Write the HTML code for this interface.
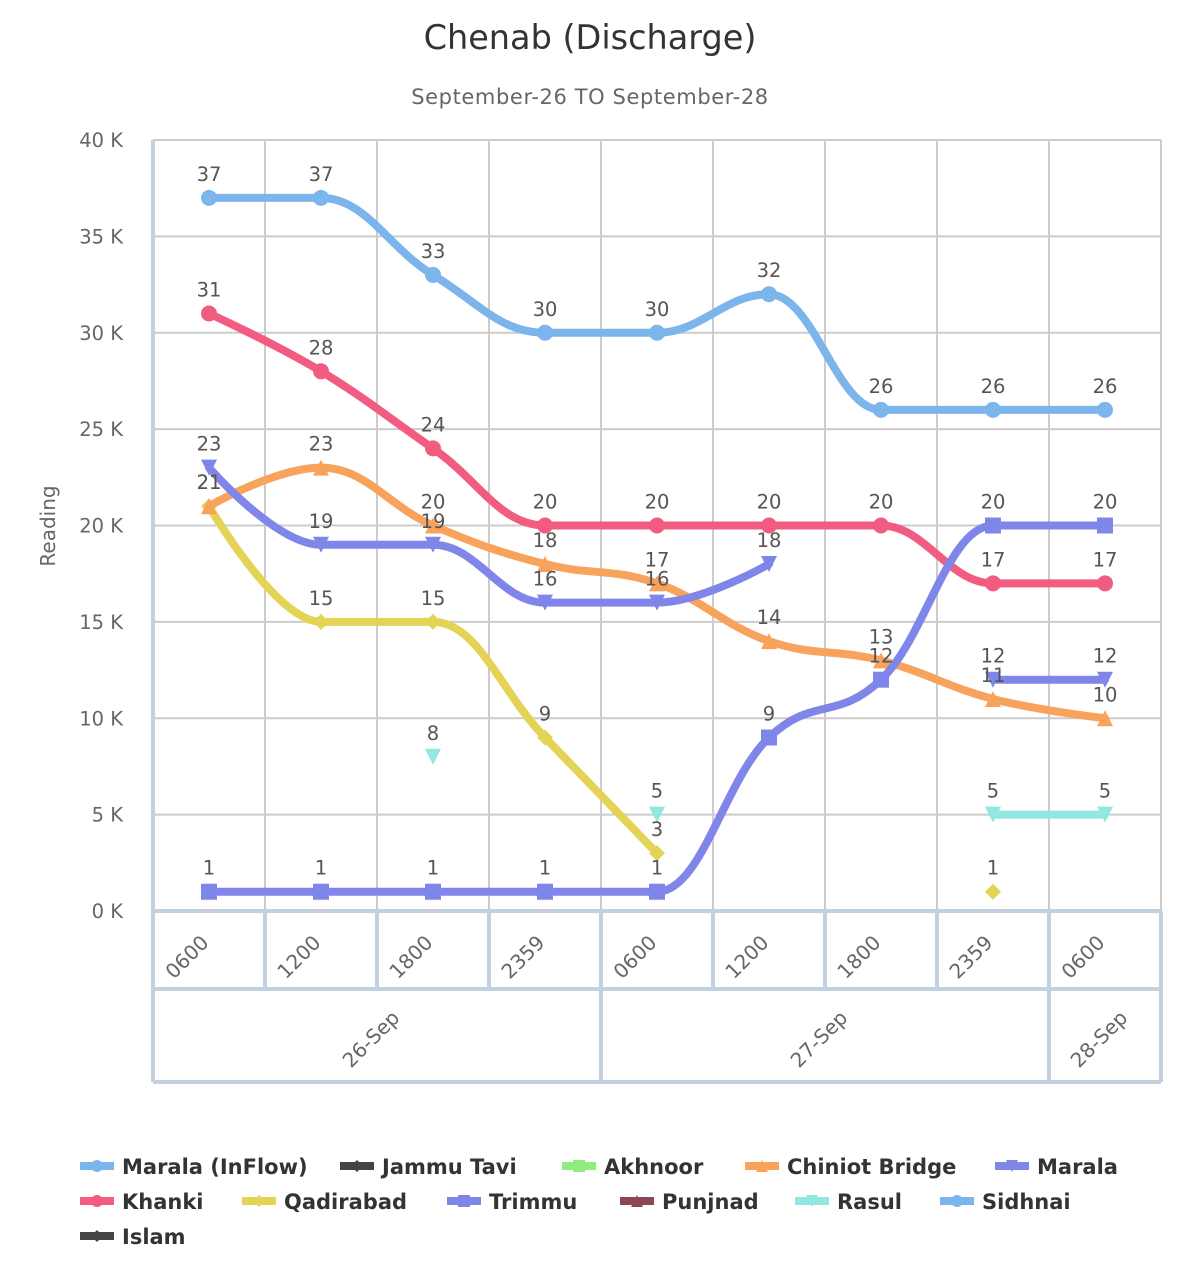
<!DOCTYPE html>
<html><head><meta charset="utf-8"><style>
html,body{margin:0;padding:0;background:#fff;}
svg{display:block;font-family:"DejaVu Sans","Liberation Sans",sans-serif;}
</style></head><body>
<svg id="s" width="1181" height="1280" viewBox="0 0 1181 1280" xmlns="http://www.w3.org/2000/svg">
<rect width="1181" height="1280" fill="#fff"/>
<text x="590" y="49" text-anchor="middle" font-size="33.5" fill="#333">Chenab (Discharge)</text>
<text x="590" y="104" text-anchor="middle" font-size="21" letter-spacing="0.6" fill="#666">September-26  TO September-28</text>
<text transform="translate(55,526) rotate(-90)" text-anchor="middle" font-size="20" fill="#666">Reading</text>
<g id="grid"></g>
<g id="series"></g>
<g id="labels" font-size="19.5" fill="#555" text-anchor="middle"></g>
<g id="legend" font-size="21" font-weight="bold" fill="#333"></g>
</svg>
<script>
const NS="http://www.w3.org/2000/svg";
function el(p,t,a,txt){const e=document.createElementNS(NS,t);for(const k in a)e.setAttribute(k,a[k]);if(txt!==undefined)e.textContent=txt;p.appendChild(e);return e;}
const g=document.getElementById('grid'),S=document.getElementById('series'),L=document.getElementById('labels'),LG=document.getElementById('legend');
const X0=153,CW=112,Y0=911,PK=19.275;
const xs=i=>X0+CW/2+i*CW, ys=v=>Y0-v*PK;
for(let k=0;k<=8;k++){const y=Y0-k*5*PK;el(g,'line',{x1:X0,x2:1161,y1:y,y2:y,stroke:'#ccc','stroke-width':2});
el(g,'text',{x:123,y:y+7,'text-anchor':'end','font-size':19.5,fill:'#666'},(k*5)+' K');}
for(let i=1;i<=9;i++){const x=X0+i*CW;el(g,'line',{x1:x,x2:x,y1:140,y2:Y0,stroke:'#ccc','stroke-width':2});}
el(g,'line',{x1:X0,x2:X0,y1:140,y2:Y0,stroke:'#c3d1df','stroke-width':4});
const bc='#c3d1df';
el(g,'line',{x1:X0,x2:1161,y1:Y0,y2:Y0,stroke:bc,'stroke-width':4});
el(g,'line',{x1:X0,x2:1161,y1:989,y2:989,stroke:bc,'stroke-width':4});
el(g,'line',{x1:X0,x2:1161,y1:1082,y2:1082,stroke:bc,'stroke-width':4});
for(let i=0;i<=9;i++){const x=X0+i*CW;el(g,'line',{x1:x,x2:x,y1:Y0,y2:989,stroke:bc,'stroke-width':4});}
[X0,601,1049,1161].forEach(x=>el(g,'line',{x1:x,x2:x,y1:989,y2:1082,stroke:bc,'stroke-width':4}));
const hrs=['0600','1200','1800','2359','0600','1200','1800','2359','0600'];
hrs.forEach((h,i)=>{const cx=xs(i);el(g,'text',{transform:`translate(${cx-21},${958}) rotate(-45)`,'text-anchor':'middle','font-size':20,fill:'#666','dominant-baseline':'middle'},h);});
[['26-Sep',372],['27-Sep',820],['28-Sep',1100]].forEach(d=>el(g,'text',{transform:`translate(${d[1]},${1040}) rotate(-45)`,'text-anchor':'middle','font-size':20,fill:'#666','dominant-baseline':'middle'},d[0]));

function spline(pts){let d='M'+pts[0][0]+' '+pts[0][1];const n=pts.length;const cont=[];
for(let i=0;i<n;i++){const [x,y]=pts[i];if(i===0||i===n-1){cont.push([x,y,x,y]);continue;}
const [px,py]=pts[i-1],[nx,ny]=pts[i+1];const sm=1.5,dn=2.5;
let lx=(sm*x+px)/dn,ly=(sm*y+py)/dn,rx=(sm*x+nx)/dn,ry=(sm*y+ny)/dn;
if(rx!==lx){const c=((ry-ly)*(rx-x))/(rx-lx)+y-ry;ly+=c;ry+=c;}
if(ly>py&&ly>y){ly=Math.max(py,y);ry=2*y-ly;}else if(ly<py&&ly<y){ly=Math.min(py,y);ry=2*y-ly;}
if(ry>ny&&ry>y){ry=Math.max(ny,y);ly=2*y-ry;}else if(ry<ny&&ry<y){ry=Math.min(ny,y);ly=2*y-ry;}
cont.push([lx,ly,rx,ry]);}
for(let i=1;i<n;i++){d+=` C${cont[i-1][2]} ${cont[i-1][3]} ${cont[i][0]} ${cont[i][1]} ${pts[i][0]} ${pts[i][1]}`;}
return d;}
function marker(p,type,x,y,c,r){r=r||8;
if(type==='circle')el(p,'circle',{cx:x,cy:y,r:r,fill:c});
else if(type==='square')el(p,'rect',{x:x-r,y:y-r,width:2*r,height:2*r,fill:c});
else if(type==='diamond')el(p,'path',{d:`M${x} ${y-r}L${x+r} ${y}L${x} ${y+r}L${x-r} ${y}Z`,fill:c});
else if(type==='triangle')el(p,'path',{d:`M${x} ${y-r}L${x+r} ${y+r}L${x-r} ${y+r}Z`,fill:c});
else if(type==='tdown')el(p,'path',{d:`M${x-r} ${y-r}L${x+r} ${y-r}L${x} ${y+r}Z`,fill:c});}
const N=null;
const series=[
['#7cb5ec','circle',[37,37,33,30,30,32,26,26,26]],
['#f15c80','circle',[31,28,24,20,20,20,20,17,17]],
['#e4d354','diamond',[21,15,15,9,3,N,N,1,N]],
['#f7a35c','triangle',[21,23,20,18,17,14,13,11,10]],
['#8085e9','square',[1,1,1,1,1,9,12,20,20]],
['#8085e9','tdown',[23,19,19,16,16,18,N,12,12]],
['#91e8e1','tdown',[N,N,8,N,5,N,N,5,5]],
];
series.forEach(([c,m,data])=>{let seg=[];const segs=[];
data.forEach((v,i)=>{if(v===N){if(seg.length)segs.push(seg);seg=[];}else seg.push([xs(i),ys(v)]);});if(seg.length)segs.push(seg);
segs.forEach(sg=>{if(sg.length>1)el(S,'path',{d:spline(sg),fill:'none',stroke:c,'stroke-width':8,'stroke-linecap':'round','stroke-linejoin':'round'});});
data.forEach((v,i)=>{if(v!==N){marker(S,m,xs(i),ys(v),c);el(L,'text',{x:xs(i),y:ys(v)-17},String(v));}});
});
const leg=[
[80,1166,'#7cb5ec','circle','Marala (InFlow)'],[340,1166,'#434348','diamond','Jammu Tavi'],[562,1166,'#90ed7d','square','Akhnoor'],[745,1166,'#f7a35c','triangle','Chiniot Bridge'],[995,1166,'#8085e9','tdown','Marala'],
[80,1201,'#f15c80','circle','Khanki'],[242,1201,'#e4d354','diamond','Qadirabad'],[447,1201,'#8085e9','square','Trimmu'],[620,1201,'#8d4653','triangle','Punjnad'],[795,1201,'#91e8e1','tdown','Rasul'],[940,1201,'#7cb5ec','circle','Sidhnai'],
[80,1236,'#434348','diamond','Islam']];
leg.forEach(([x,y,c,m,t])=>{el(LG,'line',{x1:x,x2:x+34,y1:y,y2:y,stroke:c,'stroke-width':8});marker(LG,m,x+17,y,c,6);el(LG,'text',{x:x+42,y:y+8},t);});
</script>
</body></html>
